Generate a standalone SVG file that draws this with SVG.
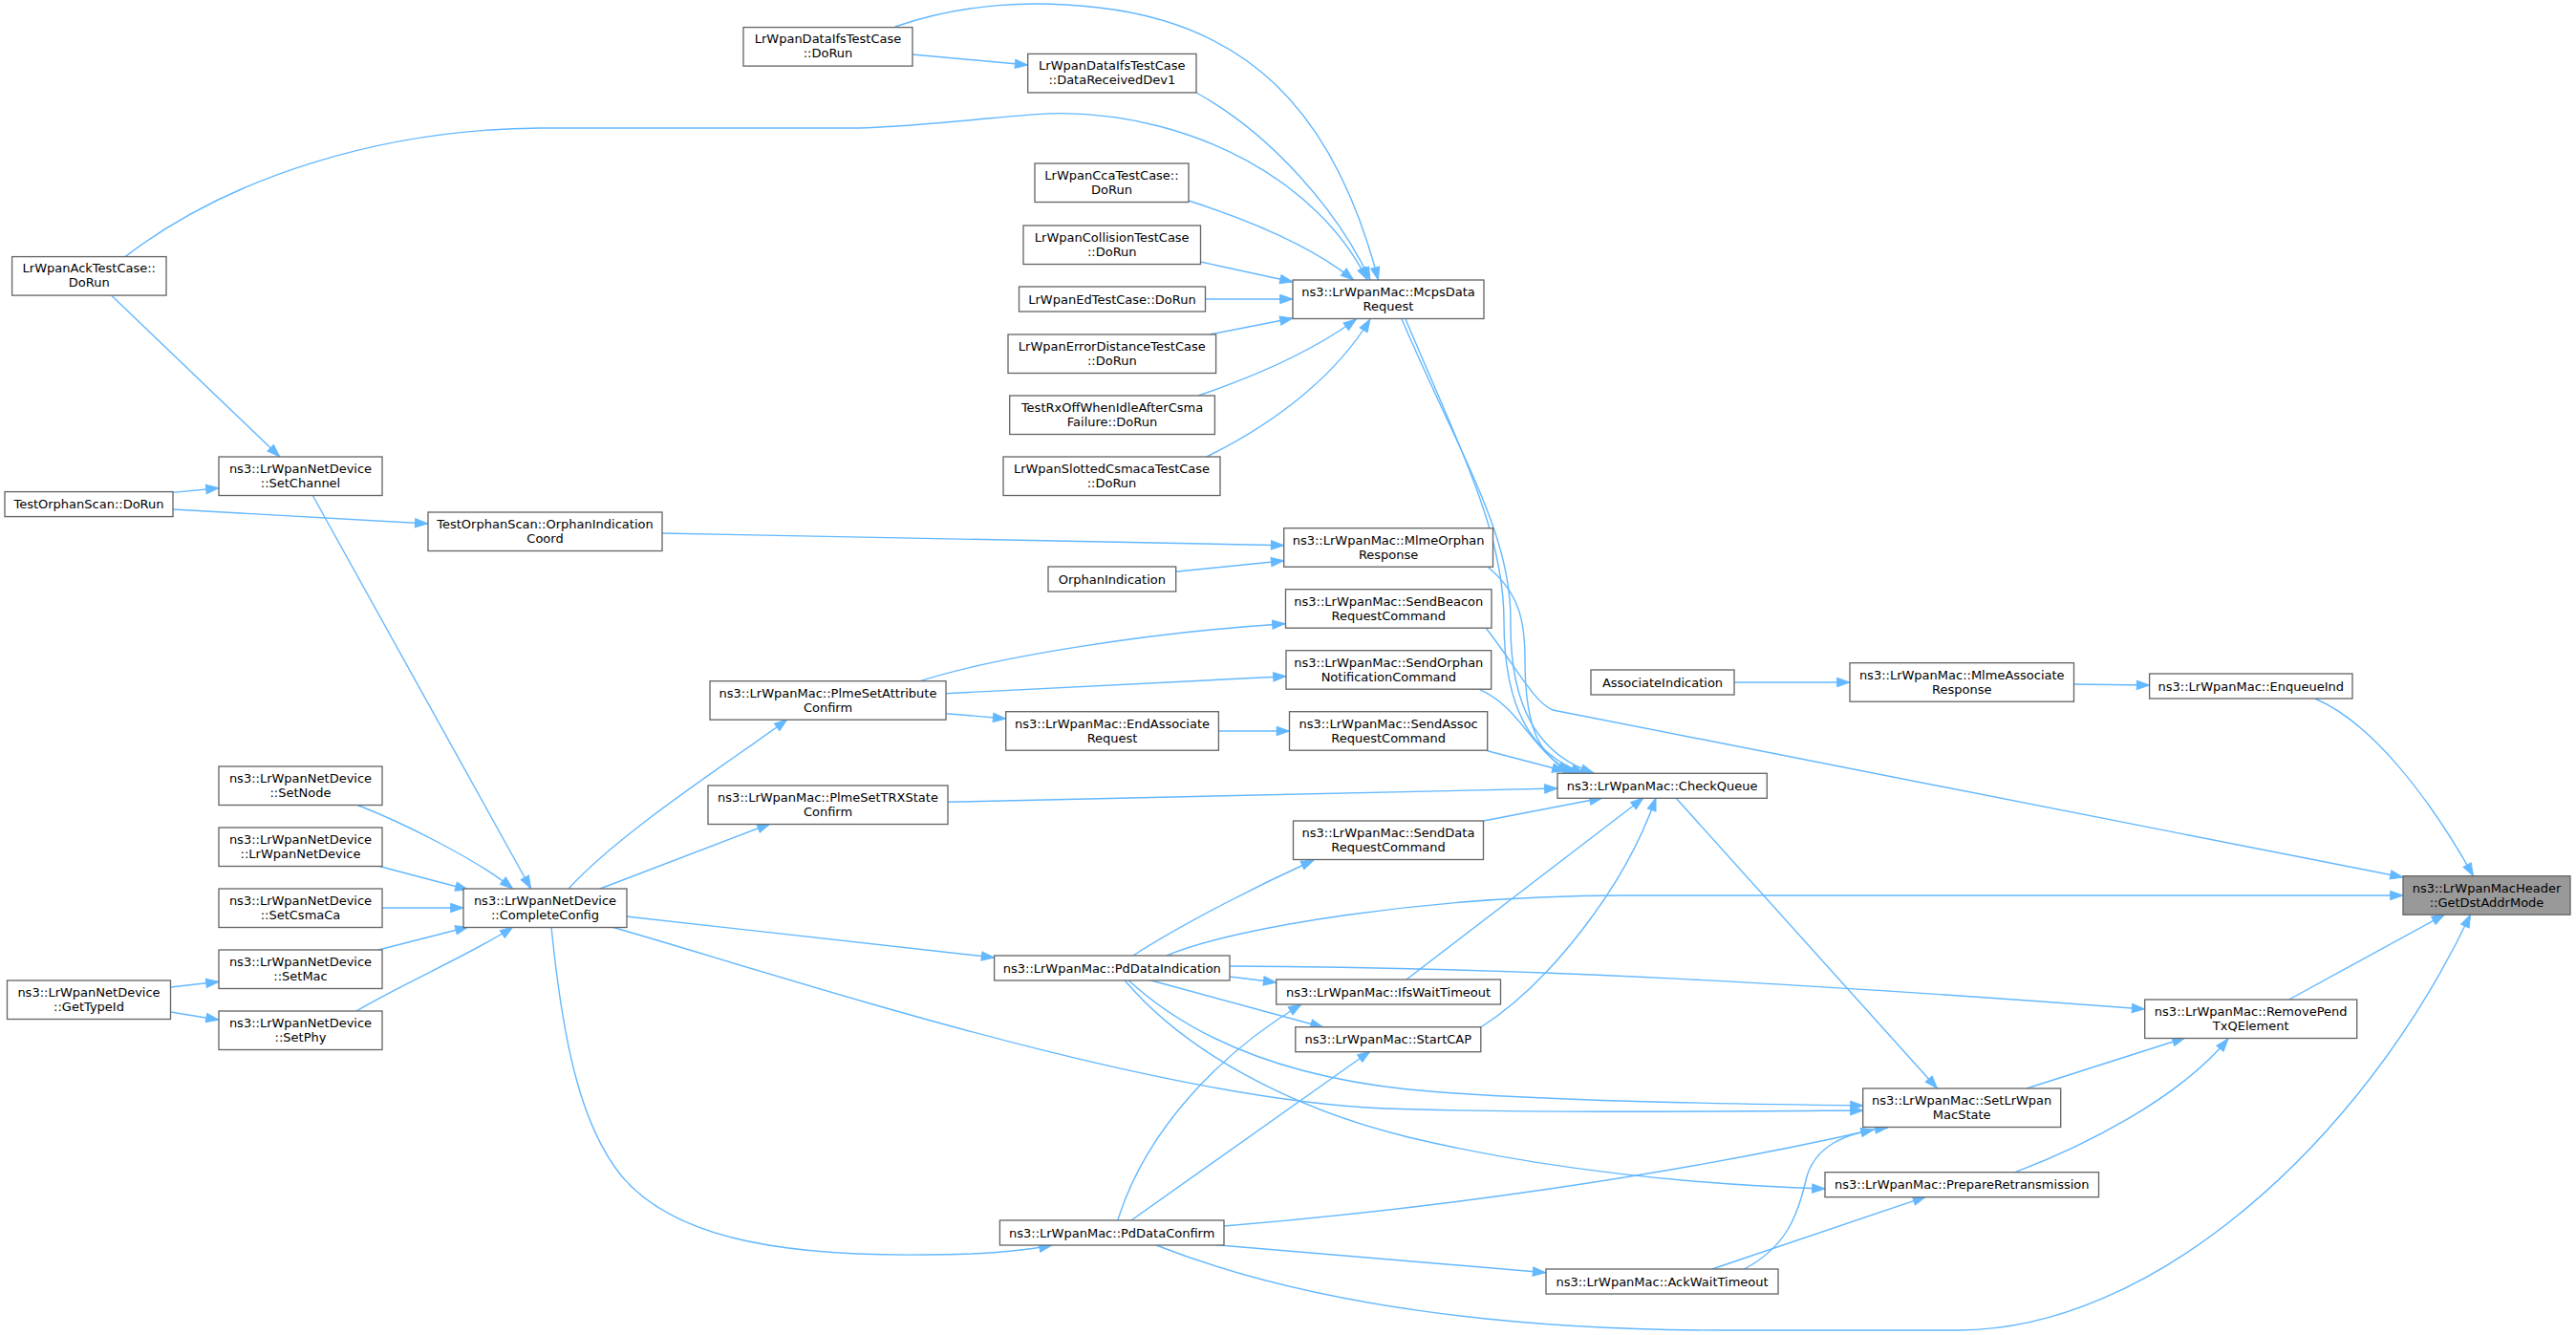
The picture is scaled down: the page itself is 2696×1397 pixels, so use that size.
<svg xmlns="http://www.w3.org/2000/svg" width="2696" height="1397" viewBox="0 0 2696 1397">
<style>
.n rect{fill:#ffffff;stroke:#666666;stroke-width:1.33}
.r rect{fill:#999999;stroke:#666666;stroke-width:1.33}
text{font-family:"DejaVu Sans","Liberation Sans",sans-serif;font-size:13px;fill:#000000;text-anchor:middle}
.e path{fill:none;stroke:#63b8ff;stroke-width:1.4;marker-end:url(#ah)}
</style>
<defs>
<marker id="ah" markerUnits="userSpaceOnUse" markerWidth="14" markerHeight="10" refX="13.3" refY="4.67" orient="auto" overflow="visible">
<path d="M0,0 L13.3,4.67 L0,9.33 z" fill="#63b8ff" stroke="#63b8ff" stroke-width="1"/>
</marker>
</defs>
<rect x="0" y="0" width="2696" height="1397" fill="#ffffff"/>
<g id="edges" class="e">
<path d="M955,57 L1075.7,68"/>
<path d="M936.7,28 C1010,3 1080,0 1150,8 C1300,25 1395,110 1442.5,293"/>
<path d="M1252,97 C1330,140 1400,220 1434,293"/>
<path d="M131,268.6 C240,185 400,135 565,134 L900,134 C1000,130 1070,118 1112,118.6 C1250,120 1380,190 1431,293"/>
<path d="M1244,210 C1300,228 1370,255 1416.6,293"/>
<path d="M1256.5,274 L1353,295"/>
<path d="M1261.6,313 L1353,313"/>
<path d="M1265.7,350 L1353,333"/>
<path d="M1254,414 C1310,395 1370,370 1419.5,334"/>
<path d="M1262.8,478 C1340,440 1400,390 1434,334"/>
<path d="M1467,334 C1530,480 1582,560 1581,650 C1580,740 1610,790 1668,809"/>
<path d="M1471,334 C1533,480 1574,560 1574,650 C1574,740 1602,790 1658,809"/>
<path d="M1556.7,593 C1590,620 1596,650 1596,690 C1596,760 1610,795 1650,809"/>
<path d="M1555,657 C1585,695 1605,735 1625,743 L2515,918"/>
<path d="M1548.7,721.7 C1590,740 1600,780 1643,809"/>
<path d="M1556.7,785.7 L1638,807"/>
<path d="M992,839.3 L1630,825"/>
<path d="M1552.7,859 L1677,835"/>
<path d="M1472,1025 L1720,835"/>
<path d="M1549.8,1075 C1620,1030 1700,930 1733,835"/>
<path d="M1754,835 L2027.5,1139"/>
<path d="M2121,1139 L2287,1086"/>
<path d="M2109,1226.7 C2180,1200 2280,1150 2332,1087"/>
<path d="M2395.6,1046 L2558.5,957"/>
<path d="M1210,1303 C1380,1370 1600,1392 1800,1392 L2050,1392 C2250,1392 2470,1200 2585.6,957"/>
<path d="M2422.7,731 C2480,755 2540,830 2588.6,916.7"/>
<path d="M1221,1000 C1290,970 1500,937 1700,937 L2515,937"/>
<path d="M1185.8,1000 C1240,965 1320,925 1375,900"/>
<path d="M1287,1022 L1335.7,1028"/>
<path d="M1204,1025.7 L1385,1075"/>
<path d="M1287,1011 C1600,1012 1900,1030 2244.7,1056"/>
<path d="M1181,1025.7 C1240,1080 1330,1125 1474,1140 C1600,1152 1800,1155 1950,1157"/>
<path d="M1177,1025.7 C1240,1100 1350,1160 1474,1190 C1620,1225 1780,1240 1910,1244"/>
<path d="M640,970 C800,1015 1200,1150 1450,1160 C1600,1165 1800,1163 1950,1162"/>
<path d="M1281,1283 C1500,1265 1750,1230 1961,1182"/>
<path d="M1169.8,1277 C1200,1180 1280,1100 1362,1051"/>
<path d="M1184,1277 L1434,1100"/>
<path d="M1273,1302.7 L1617.6,1331.7"/>
<path d="M577,970 C590,1100 610,1180 650,1230 C700,1290 800,1315 969,1313 C1020,1313 1070,1309 1101,1303"/>
<path d="M1825.4,1328 C1870,1305 1882,1270 1890,1235 C1898,1200 1930,1185 1976,1180"/>
<path d="M1792,1328 L2015.5,1252.3"/>
<path d="M116.5,309 L292.8,478"/>
<path d="M181,515.4 L229,510.7"/>
<path d="M181,533 L447.8,548"/>
<path d="M327,518 L555.7,930"/>
<path d="M693,558 L1343.7,570.7"/>
<path d="M1230.7,598.3 L1343.7,586.7"/>
<path d="M963,712.7 C1040,688 1200,662 1345,652.7"/>
<path d="M990,725.7 L1346,707.7"/>
<path d="M990,746.7 L1052.7,752"/>
<path d="M1275.4,765 L1349.5,765"/>
<path d="M595,930 C650,870 760,800 823.8,753"/>
<path d="M628,930 L806,862"/>
<path d="M655.4,959 L1040.6,1002"/>
<path d="M373,842 C420,860 500,900 536.7,930"/>
<path d="M396,906.3 L490,931"/>
<path d="M400,950 L485,950"/>
<path d="M396,994 L490,970"/>
<path d="M373,1058 C420,1030 500,995 536.7,970"/>
<path d="M178.5,1033 L229,1027.3"/>
<path d="M178.5,1059 L229,1067.3"/>
<path d="M1815,714 L1936,714"/>
<path d="M2170.5,716 L2249.6,717"/>
</g>
<g id="n1" class="n"><rect x="778" y="28.6" width="177" height="40.5"/><text x="866.5" y="45.4">LrWpanDataIfsTestCase</text><text x="866.5" y="60.4">::DoRun</text></g>
<g id="n2" class="n"><rect x="1075.7" y="56.4" width="176.3" height="40.5"/><text x="1163.85" y="73.2">LrWpanDataIfsTestCase</text><text x="1163.85" y="88.2">::DataReceivedDev1</text></g>
<g id="n3" class="n"><rect x="12.6" y="268.6" width="161.4" height="40.5"/><text x="93.3" y="285.4">LrWpanAckTestCase::</text><text x="93.3" y="300.4">DoRun</text></g>
<g id="n4" class="n"><rect x="1083" y="171" width="161" height="40.5"/><text x="1163.5" y="187.8">LrWpanCcaTestCase::</text><text x="1163.5" y="202.8">DoRun</text></g>
<g id="n5" class="n"><rect x="1071" y="236" width="185.5" height="40.5"/><text x="1163.75" y="252.8">LrWpanCollisionTestCase</text><text x="1163.75" y="267.8">::DoRun</text></g>
<g id="n6" class="n"><rect x="1066.5" y="300" width="195" height="26"/><text x="1164" y="317.5">LrWpanEdTestCase::DoRun</text></g>
<g id="n7" class="n"><rect x="1055" y="350" width="217.6" height="40.5"/><text x="1163.8" y="366.8">LrWpanErrorDistanceTestCase</text><text x="1163.8" y="381.8">::DoRun</text></g>
<g id="n8" class="n"><rect x="1056.7" y="414" width="214.7" height="40.5"/><text x="1164" y="430.8">TestRxOffWhenIdleAfterCsma</text><text x="1164" y="445.8">Failure::DoRun</text></g>
<g id="n9" class="n"><rect x="1050" y="478" width="227" height="40.5"/><text x="1163.5" y="494.8">LrWpanSlottedCsmacaTestCase</text><text x="1163.5" y="509.8">::DoRun</text></g>
<g id="n10" class="n"><rect x="1353" y="293" width="200" height="40.5"/><text x="1453" y="309.8">ns3::LrWpanMac::McpsData</text><text x="1453" y="324.8">Request</text></g>
<g id="n11" class="n"><rect x="229" y="478" width="171" height="40.5"/><text x="314.5" y="494.8">ns3::LrWpanNetDevice</text><text x="314.5" y="509.8">::SetChannel</text></g>
<g id="n12" class="n"><rect x="5" y="514.6" width="176" height="26"/><text x="93" y="532.1">TestOrphanScan::DoRun</text></g>
<g id="n13" class="n"><rect x="448" y="536" width="245" height="40.5"/><text x="570.5" y="552.8">TestOrphanScan::OrphanIndication</text><text x="570.5" y="567.8">Coord</text></g>
<g id="n14" class="n"><rect x="1343.7" y="552.7" width="218.8" height="40.5"/><text x="1453.1" y="569.5">ns3::LrWpanMac::MlmeOrphan</text><text x="1453.1" y="584.5">Response</text></g>
<g id="n15" class="n"><rect x="1097" y="593" width="133.7" height="26"/><text x="1163.85" y="610.5">OrphanIndication</text></g>
<g id="n16" class="n"><rect x="1345.5" y="616.7" width="215.5" height="40.5"/><text x="1453.25" y="633.5">ns3::LrWpanMac::SendBeacon</text><text x="1453.25" y="648.5">RequestCommand</text></g>
<g id="n17" class="n"><rect x="1346" y="680.7" width="214.7" height="40.5"/><text x="1453.35" y="697.5">ns3::LrWpanMac::SendOrphan</text><text x="1453.35" y="712.5">NotificationCommand</text></g>
<g id="n18" class="n"><rect x="743" y="712.7" width="247" height="40.5"/><text x="866.5" y="729.5">ns3::LrWpanMac::PlmeSetAttribute</text><text x="866.5" y="744.5">Confirm</text></g>
<g id="n19" class="n"><rect x="1052.7" y="744.7" width="222.7" height="40.5"/><text x="1164.05" y="761.5">ns3::LrWpanMac::EndAssociate</text><text x="1164.05" y="776.5">Request</text></g>
<g id="n20" class="n"><rect x="1349.5" y="744.7" width="207.2" height="40.5"/><text x="1453.1" y="761.5">ns3::LrWpanMac::SendAssoc</text><text x="1453.1" y="776.5">RequestCommand</text></g>
<g id="n21" class="n"><rect x="1665" y="701" width="150" height="26"/><text x="1740" y="718.5">AssociateIndication</text></g>
<g id="n22" class="n"><rect x="1936" y="693.7" width="234.5" height="40.5"/><text x="2053.25" y="710.5">ns3::LrWpanMac::MlmeAssociate</text><text x="2053.25" y="725.5">Response</text></g>
<g id="n23" class="n"><rect x="2249.6" y="705" width="212.4" height="26"/><text x="2355.8" y="722.5">ns3::LrWpanMac::EnqueueInd</text></g>
<g id="n24" class="n"><rect x="1630" y="809.3" width="219.3" height="26"/><text x="1739.65" y="826.8">ns3::LrWpanMac::CheckQueue</text></g>
<g id="n25" class="n"><rect x="741" y="822" width="251" height="40.5"/><text x="866.5" y="838.8">ns3::LrWpanMac::PlmeSetTRXState</text><text x="866.5" y="853.8">Confirm</text></g>
<g id="n26" class="n"><rect x="1353.5" y="859" width="199" height="40.5"/><text x="1453" y="875.8">ns3::LrWpanMac::SendData</text><text x="1453" y="890.8">RequestCommand</text></g>
<g id="n27" class="n"><rect x="229" y="802" width="171" height="40.5"/><text x="314.5" y="818.8">ns3::LrWpanNetDevice</text><text x="314.5" y="833.8">::SetNode</text></g>
<g id="n28" class="n"><rect x="229" y="866" width="171" height="40.5"/><text x="314.5" y="882.8">ns3::LrWpanNetDevice</text><text x="314.5" y="897.8">::LrWpanNetDevice</text></g>
<g id="n29" class="n"><rect x="229" y="930" width="171" height="40.5"/><text x="314.5" y="946.8">ns3::LrWpanNetDevice</text><text x="314.5" y="961.8">::SetCsmaCa</text></g>
<g id="n30" class="n"><rect x="485" y="930" width="171" height="40.5"/><text x="570.5" y="946.8">ns3::LrWpanNetDevice</text><text x="570.5" y="961.8">::CompleteConfig</text></g>
<g id="n31" class="r"><rect x="2515" y="916.7" width="175" height="40.5"/><text x="2602.5" y="933.5">ns3::LrWpanMacHeader</text><text x="2602.5" y="948.5">::GetDstAddrMode</text></g>
<g id="n32" class="n"><rect x="229" y="994" width="171" height="40.5"/><text x="314.5" y="1010.8">ns3::LrWpanNetDevice</text><text x="314.5" y="1025.8">::SetMac</text></g>
<g id="n33" class="n"><rect x="7.5" y="1026" width="171" height="40.5"/><text x="93" y="1042.8">ns3::LrWpanNetDevice</text><text x="93" y="1057.8">::GetTypeId</text></g>
<g id="n34" class="n"><rect x="229" y="1058" width="171" height="40.5"/><text x="314.5" y="1074.8">ns3::LrWpanNetDevice</text><text x="314.5" y="1089.8">::SetPhy</text></g>
<g id="n35" class="n"><rect x="1040.6" y="1000" width="246.4" height="26"/><text x="1163.8" y="1017.5">ns3::LrWpanMac::PdDataIndication</text></g>
<g id="n36" class="n"><rect x="1335.7" y="1025" width="234.8" height="26"/><text x="1453.1" y="1042.5">ns3::LrWpanMac::IfsWaitTimeout</text></g>
<g id="n37" class="n"><rect x="1355.8" y="1074.7" width="194" height="26"/><text x="1452.8" y="1092.2">ns3::LrWpanMac::StartCAP</text></g>
<g id="n38" class="n"><rect x="2244.7" y="1046" width="222" height="40.5"/><text x="2355.7" y="1062.8">ns3::LrWpanMac::RemovePend</text><text x="2355.7" y="1077.8">TxQElement</text></g>
<g id="n39" class="n"><rect x="1949.7" y="1139" width="207" height="40.5"/><text x="2053.2" y="1155.8">ns3::LrWpanMac::SetLrWpan</text><text x="2053.2" y="1170.8">MacState</text></g>
<g id="n40" class="n"><rect x="1910" y="1226.7" width="286.5" height="26"/><text x="2053.25" y="1244.2">ns3::LrWpanMac::PrepareRetransmission</text></g>
<g id="n41" class="n"><rect x="1046.4" y="1277" width="234.6" height="26"/><text x="1163.7" y="1294.5">ns3::LrWpanMac::PdDataConfirm</text></g>
<g id="n42" class="n"><rect x="1618" y="1328" width="243" height="26"/><text x="1739.5" y="1345.5">ns3::LrWpanMac::AckWaitTimeout</text></g>
</svg>
